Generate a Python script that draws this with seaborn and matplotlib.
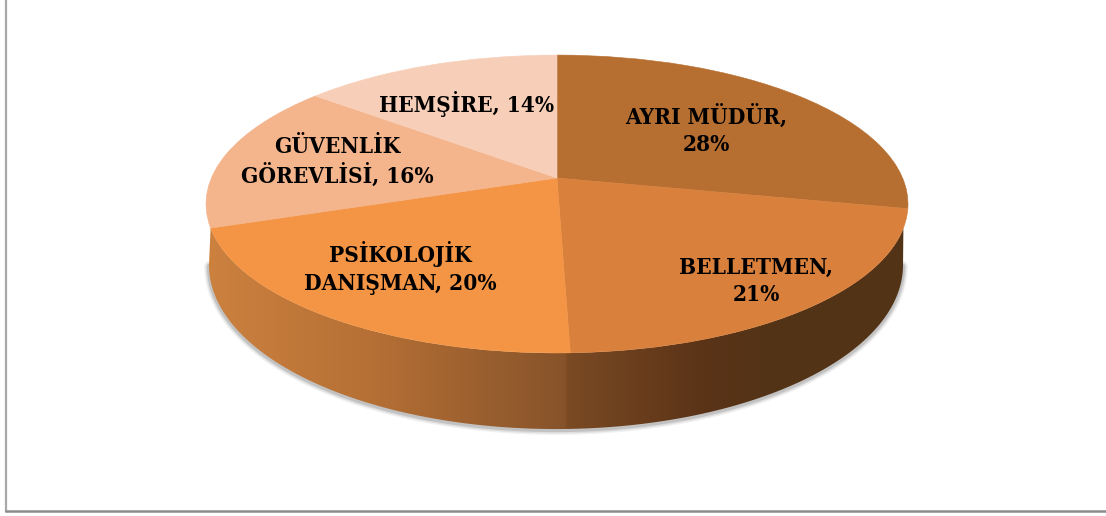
import numpy as np
import seaborn as sns
import matplotlib
matplotlib.use("Agg")
import matplotlib.pyplot as plt
from matplotlib.colors import LinearSegmentedColormap
from matplotlib.patches import Polygon
from matplotlib.transforms import Transform

# data
categories = ["AYRI MÜDÜR", "BELLETMEN", "PSİKOLOJİK\nDANIŞMAN", "GÜVENLİK\nGÖREVLİSİ", "HEMŞİRE"]
values = [28, 21, 20, 16, 14]
separators = [",\n", ",\n", ", ", ", ", ", "]

slice_colors = ["#B66F31", "#D8803C", "#F39545", "#F4B48C", "#F7CFB8"]
label_pos = [(706, 130), (756, 281), (400, 268), (337, 162), (467, 104)]

# colour of the side wall from left to right, position 0-1 across the pie
wall_stops = [(0.0, "#CC813F"), (0.23, "#B67035"), (0.51, "#87532A"), (0.515, "#7A4A23"),
              (0.70, "#5C3418"), (0.79, "#543316"), (1.0, "#533317")]

sns.set_theme(style="white")
plt.rcParams["font.family"] = ["DejaVu Serif"]


class Tilt(Transform):
    # puts the flat unit pie on a tilted plane, result in image pixels
    input_dims = 2
    output_dims = 2

    def __init__(self, cx, cy, rx, ry, p):
        super().__init__()
        self.cx, self.cy, self.rx, self.ry, self.p = cx, cy, rx, ry, p

    def transform_non_affine(self, xy):
        xy = np.asarray(xy, dtype=float)
        w = 1 + self.p * xy[:, 1]
        return np.column_stack([self.cx + self.rx * xy[:, 0] / w,
                                self.cy - self.ry * xy[:, 1] / w])


fig = plt.figure(figsize=(11.06, 5.16), dpi=100, facecolor="white")
ax = fig.add_axes([5.5 / 1106, 5 / 516, 1 - 5.5 / 1106, 1 - 5 / 516])

wedges, _ = ax.pie(values, colors=sns.color_palette(slice_colors), startangle=90,
                   counterclock=False, wedgeprops={"linewidth": 0.4})

tilt_p = 0.1746
top = Tilt(557, 178, 345.6, 144.4, tilt_p)
bottom = Tilt(556, 236.4, 341.7, 159, tilt_p)

for w, c in zip(wedges, slice_colors):
    w.set_transform(top + ax.transData)
    w.set_edgecolor(c)
    w.set_zorder(3)


def arc(t0, t1):
    t = np.linspace(t0, t1, 200)
    return np.column_stack([np.cos(t), -np.sin(t)])


# side wall, starts a little below the widest point of the rim
rim = top.transform_non_affine(arc(0.333, np.pi - 0.333))
edge = bottom.transform_non_affine(arc(np.arcsin(tilt_p), np.pi - np.arcsin(tilt_p)))
wall = Polygon(np.vstack([rim, edge[::-1]]), closed=True, facecolor="none", edgecolor="none",
               transform=ax.transData)
ax.add_patch(wall)
grad = LinearSegmentedColormap.from_list("wall", wall_stops, N=512)
im = ax.imshow(np.linspace(0, 1, 512)[None, :], cmap=grad, aspect="auto",
               extent=(207, 908, 440, 190), zorder=2)
im.set_clip_path(wall)

# soft shadow under the wall
for lw, a in [(7, 0.08), (5, 0.12), (3, 0.2)]:
    ax.plot(edge[:, 0], edge[:, 1] + 1, color="#555555", lw=lw, alpha=a, zorder=1,
            solid_capstyle="round")

for name, sep, val, (x, y) in zip(categories, separators, values, label_pos):
    ax.text(x, y, f"{name}{sep}{val}%", ha="center", va="center", color="black",
            fontsize=16.2, fontweight="bold", stretch="condensed", linespacing=1.3, zorder=5)

ax.set_aspect("auto")
ax.set_xlim(5.5, 1106)
ax.set_ylim(511, 0)
ax.set_xticks([])
ax.set_yticks([])
ax.set_frame_on(True)
for s in ["top", "right"]:
    ax.spines[s].set_visible(False)
ax.spines["left"].set_color("#A8A8A8")
ax.spines["left"].set_linewidth(1.6)
ax.spines["bottom"].set_color("#8C8C8C")
ax.spines["bottom"].set_linewidth(1.8)

fig.savefig("out.png", dpi=100, facecolor="white")
